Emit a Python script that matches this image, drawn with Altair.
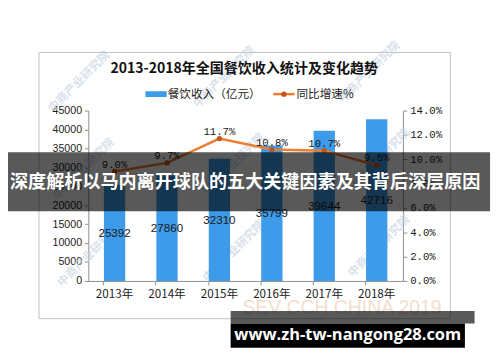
import altair as alt
import pandas as pd

years = ["2013年", "2014年", "2015年", "2016年", "2017年", "2018年"]
revenue = [25392, 27860, 32310, 35799, 39644, 42716]
growth = [0.090, 0.097, 0.117, 0.108, 0.107, 0.095]

df = pd.DataFrame({"year": years, "revenue": revenue, "growth": growth})

BLUE = "#3d9be9"
ORANGE = "#ed7d31"
DOT = "#c0561a"
CJK = "Noto Sans CJK SC"

base = alt.Chart(df)
xaxis = alt.Axis(labelAngle=0, labelFont=CJK, labelFontSize=12, labelColor="#222",
                 domainColor="#8c8c8c", tickColor="#8c8c8c", tickSize=4,
                 bandPosition=0, labelPadding=4, title=None)
xenc = alt.X("year:N", sort=years, title=None,
             scale=alt.Scale(paddingInner=0.58, paddingOuter=0.29), axis=xaxis)

left_axis = alt.Axis(orient="left", values=list(range(0, 45001, 5000)), format="d", grid=False, title=None,
                     labelFont="Liberation Sans", labelFontSize=11, labelColor="#222",
                     domainColor="#8c8c8c", tickColor="#8c8c8c", tickSize=4, labelPadding=3)
right_axis = alt.Axis(orient="right", format=".1%", values=[0, 0.02, 0.04, 0.06, 0.08, 0.10, 0.12, 0.14],
                      grid=False, title=None, labelFont="Liberation Mono", labelFontSize=11,
                      labelColor="#222", domainColor="#8c8c8c", tickColor="#8c8c8c", tickSize=4,
                      labelPadding=3)
bscale = alt.Scale(domain=[0, 45000], nice=False)
lscale = alt.Scale(domain=[0, 0.14], nice=False)

bars = base.mark_bar(color=BLUE, size=22).encode(
    x=xenc, y=alt.Y("revenue:Q", title=None, scale=bscale, axis=left_axis))
bar_text = base.transform_calculate(half="datum.revenue / 2").mark_text(
    font="Liberation Sans", fontSize=12, color="#1a1a1a").encode(
    x=xenc,
    y=alt.Y("half:Q", title=None, scale=bscale, axis=left_axis),
    text=alt.Text("revenue:Q", format="d"))
bar_layer = alt.layer(bars, bar_text)

line = base.mark_line(color=ORANGE, strokeWidth=2.5).encode(
    x=xenc, y=alt.Y("growth:Q", title=None, scale=lscale, axis=right_axis))
pts = base.mark_circle(color=DOT, size=30, opacity=1).encode(
    x=xenc, y=alt.Y("growth:Q", title=None, scale=lscale, axis=right_axis))
line_text = base.mark_text(font="Liberation Mono", fontSize=11, color="#1a1a1a", dy=-7).encode(
    x=xenc, y=alt.Y("growth:Q", title=None, scale=lscale, axis=right_axis),
    text=alt.Text("growth:Q", format=".1%"))
line_layer = alt.layer(line, pts, line_text)

one = pd.DataFrame({"k": [0]})
d = alt.Chart(one)

frame = d.mark_rect(fill=None, stroke="#bfbfbf", strokeWidth=1).encode(
    x=alt.value(-51), x2=alt.value(374), y=alt.value(-60), y2=alt.value(215))

# watermarks
wm_pos = [(-10, -30), (140, -35), (290, -40), (-5, 60), (150, 55), (300, 50),
          (0, 150), (150, 145), (300, 140)]
wms = [d.mark_text(text="中商产业研究院", font=CJK, fontSize=12, fontWeight="bold",
                   color="#c9d6e3", angle=315, opacity=0.7).encode(
    x=alt.value(px), y=alt.value(py)) for px, py in wm_pos]

title = d.mark_text(text="2013-2018年全国餐饮收入统计及变化趋势", font=CJK, fontSize=14.5,
                    fontWeight="bold", color="#111").encode(x=alt.value(161), y=alt.value(-43))
leg_rect = d.mark_rect(color=BLUE).encode(x=alt.value(59), x2=alt.value(81), y=alt.value(-20), y2=alt.value(-14))
leg_t1 = d.mark_text(text="餐饮收入（亿元）", font=CJK, fontSize=12, color="#222", align="left").encode(
    x=alt.value(82), y=alt.value(-17))
leg_line = d.mark_rule(color=ORANGE, strokeWidth=2.5).encode(
    x=alt.value(191), x2=alt.value(213), y=alt.value(-17))
leg_dot = d.mark_circle(color=DOT, size=30, opacity=1).encode(x=alt.value(202), y=alt.value(-17))
leg_t2 = d.mark_text(text="同比增速%", font=CJK, fontSize=12, color="#222", align="left").encode(
    x=alt.value(215), y=alt.value(-17))

sev = d.mark_text(text="SEV CCH CHINA 2019", font="Liberation Sans", fontSize=20,
                  color="#f3d6c2", opacity=0.8).encode(x=alt.value(262), y=alt.value(204))

banner = d.mark_rect(color="#000000", opacity=0.65).encode(
    x=alt.value(-90), x2=alt.value(415), y=alt.value(43), y2=alt.value(104))
banner_t = d.mark_text(text="深度解析以马内离开球队的五大关键因素及其背后深层原因", font=CJK,
                       fontSize=18.7, fontWeight="bold", color="#ffffff").encode(
    x=alt.value(162), y=alt.value(74))

gray_band = d.mark_rect(color="#000000", opacity=0.65).encode(
    x=alt.value(147), x2=alt.value(399), y=alt.value(207), y2=alt.value(220))
black_box = d.mark_rect(color="#000000", opacity=1).encode(
    x=alt.value(147), x2=alt.value(389), y=alt.value(220), y2=alt.value(245))
url_t = d.mark_text(text="www.zh-tw-nangong28.com", font="Open Sans", fontSize=17,
                    fontWeight="bold", color="#ffffff").encode(x=alt.value(268), y=alt.value(232))

chart = alt.layer(
    frame, *wms, bar_layer, line_layer, title, leg_rect, leg_t1, leg_line, leg_dot, leg_t2,
    sev, banner, banner_t, gray_band, black_box, url_t
).resolve_scale(y="independent").properties(
    width=325, height=176,
    autosize=alt.AutoSizeParams(type="none"),
    padding={"left": 83, "top": 100, "right": 92, "bottom": 86},
    background="white",
).configure_view(stroke=None)

chart.save("out.html", embed_options={"renderer": "svg", "actions": False})
